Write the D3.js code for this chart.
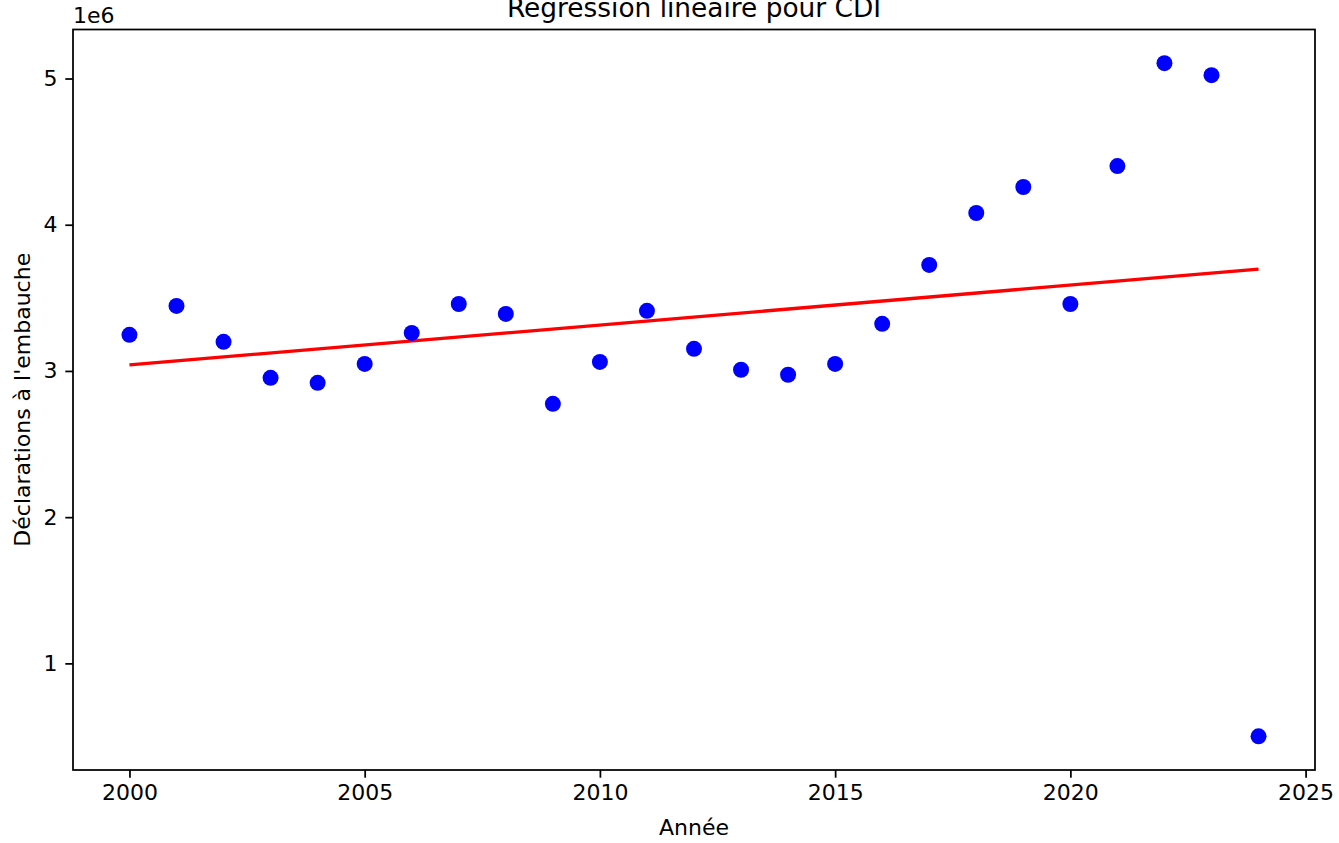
<!DOCTYPE html>
<meta charset="utf-8">
<style>
  body { margin: 0; background: #fff; }
  svg text { font-family: "DejaVu Sans", sans-serif; fill: #000; }
  .axis text { font-size: 22px; }
  .axis path, .axis line { stroke: #000; stroke-width: 1.75px; }
  .frame { fill: none; stroke: #000; stroke-width: 1.75px; }
  .fit { stroke: red; stroke-width: 3.3px; fill: none; }
  .dot { fill: blue; }
</style>
<body>
<div id="chart"></div>
<script src="https://cdn.jsdelivr.net/npm/d3@7"></script>
<script>
// data (values in millions)
const years = [2000, 2001, 2002, 2003, 2004, 2005, 2006, 2007, 2008, 2009, 2010, 2011,
               2012, 2013, 2014, 2015, 2016, 2017, 2018, 2019, 2020, 2021, 2022, 2023, 2024];
const cdi = [3.247, 3.445, 3.199, 2.953, 2.919, 3.048, 3.260, 3.458, 3.390, 2.775, 3.062, 3.411,
             3.151, 3.008, 2.974, 3.048, 3.322, 3.725, 4.080, 4.258, 3.458, 4.401, 5.105, 5.023, 0.501];
const xTicks = [2000, 2005, 2010, 2015, 2020, 2025];
const yTicks = [1, 2, 3, 4, 5];

const W = 1339, H = 843;
const margin = {top: 29.5, right: 24, bottom: 73, left: 73};
const width = W - margin.left - margin.right,
      height = H - margin.top - margin.bottom;

const svg = d3.select("#chart").append("svg")
  .attr("width", W)
  .attr("height", H);

const g = svg.append("g")
  .attr("transform", "translate(" + margin.left + "," + margin.top + ")");

// matplotlib style 5% margins
const xr = d3.extent(years), yr = d3.extent(cdi);
const xPad = (xr[1] - xr[0]) * 0.05, yPad = (yr[1] - yr[0]) * 0.05;

const x = d3.scaleLinear().domain([xr[0] - xPad, xr[1] + xPad]).range([0, width]);
const y = d3.scaleLinear().domain([yr[0] - yPad, yr[1] + yPad]).range([height, 0]);

// least squares fit
const mx = d3.mean(years), my = d3.mean(cdi);
let sxy = 0, sxx = 0;
years.forEach(function(yy, i) {
  sxy += (yy - mx) * (cdi[i] - my);
  sxx += (yy - mx) * (yy - mx);
});
const slope = sxy / sxx, icpt = my - slope * mx;
const fitPts = [xr[0], xr[1]].map(function(v) { return [v, icpt + slope * v]; });

g.append("path")
  .datum(fitPts)
  .attr("class", "fit")
  .attr("d", d3.line().x(function(d) { return x(d[0]); }).y(function(d) { return y(d[1]); }));

g.selectAll("circle.dot")
  .data(years)
  .enter()
  .append("circle")
  .attr("class", "dot")
  .attr("cx", function(d) { return x(d); })
  .attr("cy", function(d, i) { return y(cdi[i]); })
  .attr("r", 8);

// axes
const xAxis = g.append("g")
  .attr("class", "axis")
  .attr("transform", "translate(0," + height + ")")
  .call(d3.axisBottom(x).tickValues(xTicks).tickFormat(d3.format("d")).tickSize(7.7).tickPadding(7));
xAxis.select(".domain").remove();

const yAxis = g.append("g")
  .attr("class", "axis")
  .call(d3.axisLeft(y).tickValues(yTicks).tickFormat(d3.format("d")).tickSize(7.7).tickPadding(7.7));
yAxis.select(".domain").remove();

g.append("rect")
  .attr("class", "frame")
  .attr("width", width)
  .attr("height", height);

// offset text
g.append("text")
  .attr("x", 0)
  .attr("y", -7)
  .style("font-size", "22px")
  .text("1e6");

// title
g.append("text")
  .attr("x", width / 2)
  .attr("y", -13)
  .attr("text-anchor", "middle")
  .style("font-size", "26.4px")
  .text("Régression linéaire pour CDI");

// axis labels
svg.append("text")
  .attr("x", margin.left + width / 2)
  .attr("y", 835)
  .attr("text-anchor", "middle")
  .style("font-size", "22px")
  .text("Année");

svg.append("text")
  .attr("transform", "translate(30," + (margin.top + height / 2) + ") rotate(-90)")
  .attr("text-anchor", "middle")
  .style("font-size", "22px")
  .text("Déclarations à l'embauche");
</script>
</body>
